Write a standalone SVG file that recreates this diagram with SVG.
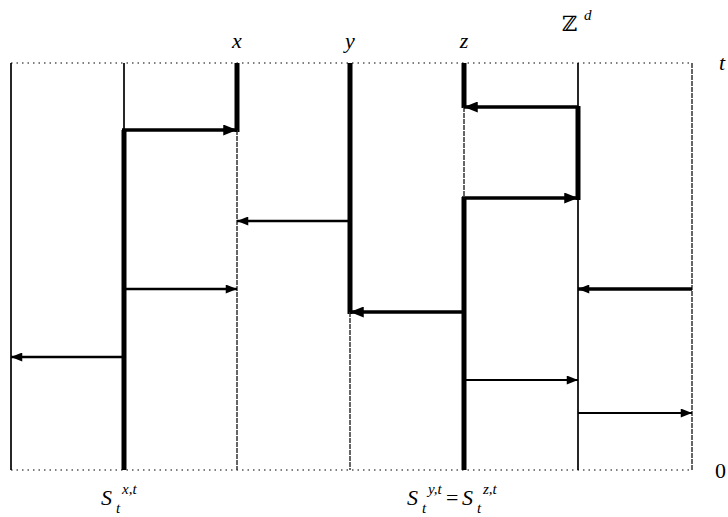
<svg xmlns="http://www.w3.org/2000/svg" width="728" height="517" viewBox="0 0 728 517">
<style>
.dot{stroke:#555;stroke-width:1.5;stroke-dasharray:1.5 4;fill:none}
.thin{stroke:#000;stroke-width:1.7;fill:none}
.thick{stroke:#000;stroke-width:5;fill:none}
.gray{stroke:#333;stroke-width:1.5;stroke-dasharray:5 1;fill:none}
.h3{stroke:#000;stroke-width:3.5;fill:none}
.h2{stroke:#000;stroke-width:2.5;fill:none}
.h1{stroke:#000;stroke-width:1.8;fill:none}
.lbl{font-family:"Liberation Serif",serif;font-style:italic;font-size:22px;fill:#000}
.sub{font-family:"Liberation Serif",serif;font-style:italic;font-size:15px;fill:#000}
</style>
<defs>
<marker id="ah" viewBox="0 0 10 8" refX="10" refY="4" markerWidth="12" markerHeight="9" markerUnits="userSpaceOnUse" orient="auto">
<path d="M0,0 L10,4 L0,8 Z" fill="#000"/>
</marker>
<marker id="ahL" viewBox="0 0 10 8" refX="10" refY="4" markerWidth="14" markerHeight="11" markerUnits="userSpaceOnUse" orient="auto">
<path d="M0,0 L10,4 L0,8 Z" fill="#000"/>
</marker>
</defs>
<g id="frame">
<line class="dot" x1="11" y1="63" x2="692" y2="63"/>
<line class="dot" x1="11" y1="470" x2="692" y2="470"/>
</g>
<g id="line-0">
<line class="thin" x1="11" y1="63" x2="11" y2="470"/>
</g>
<g id="line-1">
<line class="thin" x1="124" y1="63" x2="124" y2="130"/>
<line class="thick" x1="124" y1="130" x2="124" y2="470"/>
</g>
<g id="line-x">
<line class="thick" x1="237" y1="63" x2="237" y2="132"/>
<line class="gray" x1="237" y1="130" x2="237" y2="470"/>
</g>
<g id="line-y">
<line class="thick" x1="350" y1="63" x2="350" y2="314"/>
<line class="gray" x1="350" y1="312" x2="350" y2="470"/>
</g>
<g id="line-z">
<line class="thick" x1="464" y1="63" x2="464" y2="108"/>
<line class="gray" x1="464" y1="107" x2="464" y2="198"/>
<line class="thick" x1="464" y1="197" x2="464" y2="470"/>
</g>
<g id="line-5">
<line class="thin" x1="578" y1="63" x2="578" y2="107"/>
<line class="thick" x1="578" y1="106" x2="578" y2="200"/>
<line class="thin" x1="578" y1="198" x2="578" y2="470"/>
</g>
<g id="line-6">
<line class="gray" x1="692" y1="63" x2="692" y2="470"/>
</g>
<g id="connectors">
<line class="h3" x1="122" y1="130" x2="237" y2="130" marker-end="url(#ahL)"/>
<line class="h2" x1="350" y1="221" x2="237" y2="221" marker-end="url(#ah)"/>
<line class="h2" x1="124" y1="289" x2="237" y2="289" marker-end="url(#ah)"/>
<line class="h2" x1="124" y1="357" x2="11" y2="357" marker-end="url(#ah)"/>
<line class="h3" x1="464" y1="312" x2="350" y2="312" marker-end="url(#ahL)"/>
<line class="h3" x1="578" y1="107" x2="464" y2="107" marker-end="url(#ahL)"/>
<line class="h3" x1="462" y1="198" x2="578" y2="198" marker-end="url(#ahL)"/>
<line class="h3" x1="692" y1="289" x2="578" y2="289" marker-end="url(#ah)"/>
<line class="h1" x1="464" y1="380" x2="578" y2="380" marker-end="url(#ah)"/>
<line class="h1" x1="578" y1="413" x2="692" y2="413" marker-end="url(#ah)"/>
</g>
<g id="labels">
<text class="lbl" x="237" y="48" text-anchor="middle">x</text>
<text class="lbl" x="350" y="48" text-anchor="middle">y</text>
<text class="lbl" x="464" y="48" text-anchor="middle">z</text>
<text x="562" y="31" style="font-family:'DejaVu Serif',serif;font-size:21px">ℤ</text>
<text class="sub" x="584" y="20">d</text>
<text class="lbl" x="719" y="70">t</text>
<text x="715" y="478" style="font-family:'Liberation Serif',serif;font-size:22px">0</text>
<text class="lbl" x="101" y="505">S</text>
<text class="sub" x="116" y="513">t</text>
<text class="sub" x="122" y="494">x,t</text>
<text class="lbl" x="407" y="505">S</text>
<text class="sub" x="422" y="513">t</text>
<text class="sub" x="428" y="494">y,t</text>
<text x="446" y="505" style="font-family:'Liberation Serif',serif;font-size:22px">=</text>
<text class="lbl" x="462" y="505">S</text>
<text class="sub" x="477" y="513">t</text>
<text class="sub" x="483" y="494">z,t</text>
</g>
</svg>
